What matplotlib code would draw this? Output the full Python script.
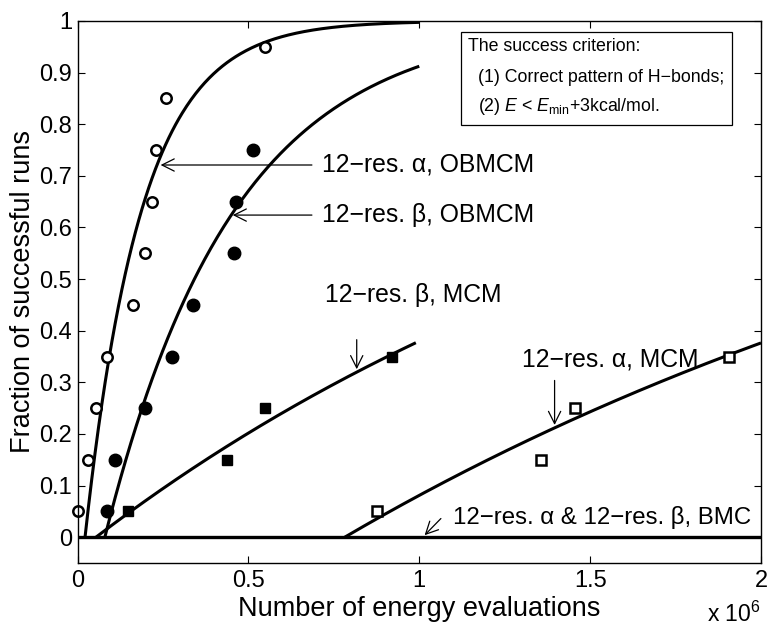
import numpy as np
import matplotlib
matplotlib.use("Agg")
import matplotlib.pyplot as plt
from matplotlib.patches import Rectangle

plt.rcParams['font.family'] = ['Liberation Sans', 'DejaVu Sans']
plt.rcParams['mathtext.fontset'] = 'custom'
plt.rcParams['mathtext.rm'] = 'Liberation Sans'
plt.rcParams['mathtext.it'] = 'Liberation Sans:italic'

# energy evaluations in units of 1e6
alpha_obmcm_x = [0.0, 0.031, 0.054, 0.086, 0.162, 0.197, 0.218, 0.230, 0.259, 0.548]
alpha_obmcm_y = [0.05, 0.15, 0.25, 0.35, 0.45, 0.55, 0.65, 0.75, 0.85, 0.95]
beta_obmcm_x = [0.086, 0.110, 0.197, 0.276, 0.338, 0.458, 0.463, 0.513]
beta_obmcm_y = [0.05, 0.15, 0.25, 0.35, 0.45, 0.55, 0.65, 0.75]
beta_mcm_x = [0.148, 0.437, 0.548, 0.920]
beta_mcm_y = [0.05, 0.15, 0.25, 0.35]
alpha_mcm_x = [0.876, 1.355, 1.455, 1.905]
alpha_mcm_y = [0.05, 0.15, 0.25, 0.35]

# fitted curves: y = 1 - exp(-(x - x0)/tau), drawn from x0 to x_end
fit_x0 = [0.022, 0.080, 0.054, 0.782]
fit_tau = [0.165, 0.378, 1.98, 2.58]
fit_xend = [1.0, 1.0, 0.99, 2.0]

xticks = [0, 0.5, 1, 1.5, 2]
xticklabels = ['0', '0.5', '1', '1.5', '2']
yticks = [0, 0.1, 0.2, 0.3, 0.4, 0.5, 0.6, 0.7, 0.8, 0.9, 1]
yticklabels = ['0', '0.1', '0.2', '0.3', '0.4', '0.5', '0.6', '0.7', '0.8', '0.9', '1']

fig = plt.figure(figsize=(7.69, 6.28), dpi=100)
ax = fig.add_axes([0.1008, 0.1035, 0.8888, 0.8631])

lw = 2.2
for x0, tau, xe in zip(fit_x0, fit_tau, fit_xend):
    xs = np.linspace(x0, xe, 300)
    ax.plot(xs, 1 - np.exp(-(xs - x0) / tau), color='black', lw=lw, solid_capstyle='butt')
ax.axhline(0, color='black', lw=2.4)

ax.plot(alpha_obmcm_x, alpha_obmcm_y, 'o', mfc='white', mec='black', mew=1.8, ms=7.5, ls='none', clip_on=False)
ax.plot(beta_obmcm_x, beta_obmcm_y, 'o', mfc='black', mec='black', ms=9, ls='none')
ax.plot(beta_mcm_x, beta_mcm_y, 's', mfc='black', mec='black', ms=7.5, ls='none')
ax.plot(alpha_mcm_x, alpha_mcm_y, 's', mfc='white', mec='black', mew=1.8, ms=6.5, ls='none')

ax.set_xlim(0, 2)
ax.set_ylim(-0.05, 1)
ax.set_xticks(xticks)
ax.set_xticklabels(xticklabels)
ax.set_yticks(yticks)
ax.set_yticklabels(yticklabels)
ax.tick_params(direction='in', top=True, right=True, length=5, width=0.8, labelsize=17)
ax.tick_params(axis='y', pad=4)
ax.tick_params(axis='x', pad=5)
for s in ax.spines.values():
    s.set_linewidth(1.0)

ax.set_xlabel('Number of energy evaluations', fontsize=19.5, labelpad=3)
ax.set_ylabel('Fraction of successful runs', fontsize=19.5, labelpad=2)

fig.text(0.919, 6 / 628, r'x 10$^{6}$', fontsize=16.5, ha='left', va='baseline')

arrowprops = dict(arrowstyle='->', color='black', lw=0.9, mutation_scale=22)
fs = 17.8
ax.annotate('', xy=(0.235, 0.721), xytext=(0.694, 0.721), arrowprops=arrowprops)
ax.text(0.716, 0.721, '12\u2212res. \u03b1, OBMCM', fontsize=fs, va='center', ha='left')
ax.annotate('', xy=(0.446, 0.624), xytext=(0.694, 0.624), arrowprops=arrowprops)
ax.text(0.716, 0.624, '12\u2212res. \u03b2, OBMCM', fontsize=fs, va='center', ha='left')
ax.annotate('', xy=(0.817, 0.32), xytext=(0.817, 0.388), arrowprops=arrowprops)
ax.text(0.724, 0.47, '12\u2212res. \u03b2, MCM', fontsize=fs, va='center', ha='left')
ax.annotate('', xy=(1.396, 0.212), xytext=(1.396, 0.309), arrowprops=arrowprops)
ax.text(1.30, 0.344, '12\u2212res. \u03b1, MCM', fontsize=fs, va='center', ha='left')
ax.annotate('', xy=(1.01, 0.0), xytext=(1.069, 0.04), arrowprops=arrowprops)
ax.text(1.098, 0.038, '12\u2212res. \u03b1 & 12\u2212res. \u03b2, BMC', fontsize=17.3, va='center', ha='left')

# criterion box
ax.add_patch(Rectangle((1.121, 0.798), 0.793, 0.18, fill=True, fc='white', ec='black', lw=0.9, zorder=5))
bfs = 12.8
ax.text(1.142, 0.951, 'The success criterion:', fontsize=bfs, va='center', ha='left', zorder=6)
ax.text(1.171, 0.891, '(1) Correct pattern of H\u2212bonds;', fontsize=bfs, va='center', ha='left', zorder=6)
ax.text(1.171, 0.835, r'(2) $E$ < $E_{\rm min}$+3kcal/mol.', fontsize=bfs, va='center', ha='left', zorder=6)

fig.savefig('out.png', dpi=100)
